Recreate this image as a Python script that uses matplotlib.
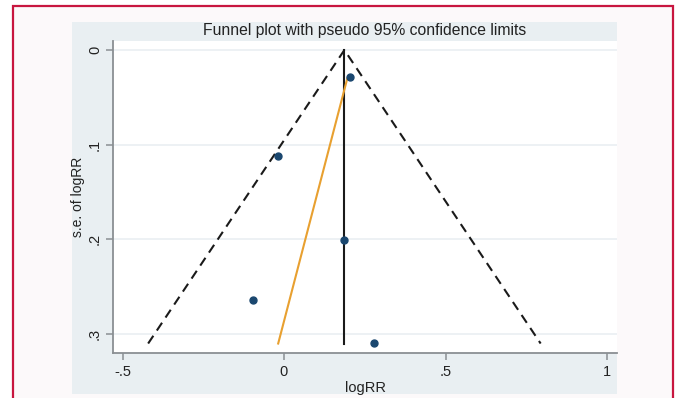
import matplotlib
matplotlib.use("Agg")
import matplotlib.pyplot as plt
from matplotlib.patches import Rectangle

# ---- data ----
logrr = [0.205, -0.020, 0.185, -0.095, 0.280]
se = [0.0282, 0.1116, 0.201, 0.2637, 0.3097]
pooled = 0.187
se_max = 0.31
z95 = 1.96
egger_se = [0.030, 0.310]
egger_x = [0.196, -0.018]
xticks = [-0.5, 0, 0.5, 1]
xticklabels = ["-.5", "0", ".5", "1"]
yticks = [0, 0.1, 0.2, 0.3]
yticklabels = ["0", ".1", ".2", ".3"]
title = "Funnel plot with pseudo 95% confidence limits"
xlabel = "logRR"
ylabel = "s.e. of logRR"

plt.rcParams['font.family'] = ['Liberation Sans', 'DejaVu Sans']

W, H = 677, 398
fig = plt.figure(figsize=(W / 100, H / 100), dpi=100)
fig.patch.set_facecolor("white")

def fx(px):
    return px / W

def fy(py):
    return 1 - py / H

# outer pinkish panel with crimson border
fig.patches.append(Rectangle((fx(13), fy(420)), fx(673) - fx(13), fy(6) - fy(420),
                             transform=fig.transFigure, facecolor="#fcf9fa",
                             edgecolor="#c8163f", linewidth=1.6, zorder=0))
# Stata graph region
fig.patches.append(Rectangle((fx(72), fy(394)), fx(617) - fx(72), fy(22) - fy(394),
                             transform=fig.transFigure, facecolor="#e9eff2",
                             edgecolor="none", zorder=0.5))

ax = fig.add_axes([fx(113), fy(353), fx(617) - fx(113), fy(41) - fy(353)])
ax.set_zorder(3)
ax.set_facecolor("white")

x0 = 284
ppu = 323.0
ax.set_xlim((113 - x0) / ppu, (617 - x0) / ppu)
ax.set_ylim(0.32, -0.0095)

for yt in yticks:
    ax.axhline(yt, color="#eaeff2", linewidth=1.2, zorder=1)

# pseudo 95% limits
ax.plot([pooled - z95 * se_max, pooled, pooled + z95 * se_max], [se_max, 0, se_max],
        color="#1a1a1a", linestyle=(0, (4.5, 3)), linewidth=1.5, zorder=2)
ax.plot([pooled, pooled], [0, se_max], color="#1a1a1a", linewidth=1.5, zorder=2)
ax.plot(egger_x, egger_se, color="#e8a030", linewidth=1.5, zorder=3)
ax.plot(logrr, se, "o", color="#1a476f", markersize=5, zorder=4)

ax.set_xticks(xticks)
ax.set_xticklabels(xticklabels)
ax.set_yticks(yticks)
ax.set_yticklabels(yticklabels, rotation=90, va="center")

for s in ["top", "right"]:
    ax.spines[s].set_visible(False)
for s in ["left", "bottom"]:
    ax.spines[s].set_color("#8a8f93")
    ax.spines[s].set_linewidth(1.3)
ax.tick_params(axis="both", direction="out", length=5, width=1.1, color="#8a8f93",
               labelsize=10.5, labelcolor="#222222", pad=4)
ax.tick_params(axis="y", pad=3)

ax.set_xlabel(xlabel, fontsize=10.5, color="#222222", labelpad=1)
ax.set_ylabel(ylabel, fontsize=10, color="#222222")
ax.yaxis.set_label_coords(-0.056, 0.5)
fig.text(fx(365), fy(30), title, ha="center", va="center", fontsize=11.3, color="#222222")

fig.savefig("out.png", dpi=100, facecolor=fig.get_facecolor())
